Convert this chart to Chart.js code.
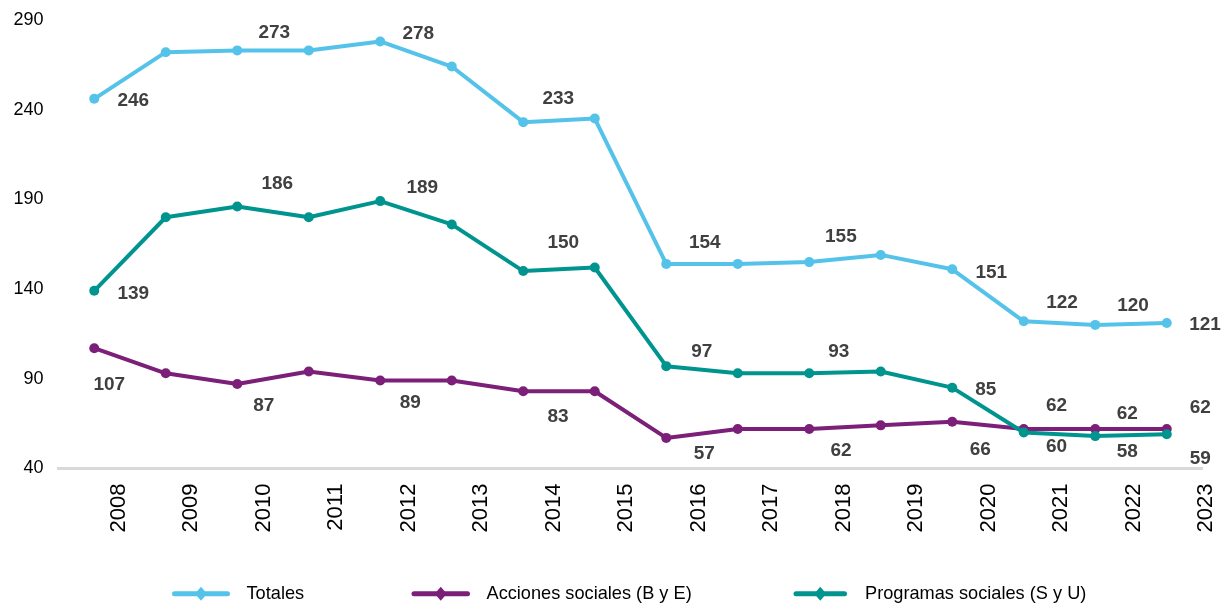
<!DOCTYPE html>
<html>
<head>
<meta charset="utf-8">
<script src="https://cdn.jsdelivr.net/npm/chart.js@4/dist/chart.umd.min.js"></script>
<style>
html,body{margin:0;padding:0;background:#fff;}
#wrap{width:1222px;height:603px;position:relative;}
</style>
</head>
<body>
<div id="wrap"><canvas id="c" width="1222" height="603"></canvas></div>
<script>
// ---- data ----
const years = ['2008','2009','2010','2011','2012','2013','2014','2015','2016','2017','2018','2019','2020','2021','2022','2023'];
const totales   = [246, 272, 273, 273, 278, 264, 233, 235, 154, 154, 155, 159, 151, 122, 120, 121];
const acciones  = [107,  93,  87,  94,  89,  89,  83,  83,  57,  62,  62,  64,  66,  62,  62,  62];
const programas = [139, 180, 186, 180, 189, 176, 150, 152,  97,  93,  93,  94,  85,  60,  58,  59];
const labelledIdx = [0, 2, 4, 6, 8, 10, 12, 13, 14, 15];
const yTicks = [40, 90, 140, 190, 240, 290];
const seriesNames = ['Totales', 'Acciones sociales (B y E)', 'Programas sociales (S y U)'];

// ---- styles ----
const COLORS = ['#55C3E9', '#7B1F79', '#00948F'];
const FONT = "'Liberation Sans', Arial, sans-serif";
// label offsets (dx, dy) from point centre, by labelled index
const labelOffsets = [
  {0:[39,0], 2:[37,-19], 4:[38,-9], 6:[35,-24.5], 8:[38.5,-23], 10:[31.6,-26.5], 12:[39,1.7], 13:[38.3,-19.7], 14:[37.8,-20.3], 15:[38.3,0.6]},
  {0:[15,35], 2:[26.5,19.7], 4:[30,21], 6:[34.7,24], 8:[38,14], 10:[31.8,20], 12:[28,26.6], 13:[32.8,-25], 14:[32,-16.3], 15:[33.6,-23]},
  {0:[39,1], 2:[40,-24], 4:[42,-15], 6:[40,-30], 8:[35.5,-15.7], 10:[29.6,-23], 12:[33.6,0.6], 13:[32.8,12.3], 14:[32,14], 15:[33.6,22.7]}
];
const legendItems = [
  {x0:172, x1:230, tx:246.5},
  {x0:411.5, x1:470, tx:486.5},
  {x0:793.5, x1:847, tx:865}
];

const overlay = {
  id: 'overlay',
  afterDatasetsDraw(chart) {
    const ctx = chart.ctx;
    ctx.save();
    ctx.font = 'bold 19px ' + FONT;
    ctx.fillStyle = '#404040';
    ctx.textAlign = 'center';
    ctx.textBaseline = 'alphabetic';
    chart.data.datasets.forEach((ds, di) => {
      const meta = chart.getDatasetMeta(di);
      labelledIdx.forEach(i => {
        const el = meta.data[i];
        const off = labelOffsets[di][i];
        ctx.fillText(String(Math.round(ds.data[i])), el.x + off[0], el.y + off[1] + 19 * 0.358);
      });
    });
    ctx.restore();
  },
  afterDraw(chart) {
    const ctx = chart.ctx;
    const xs = chart.scales.x;
    ctx.save();
    ctx.font = '22px ' + FONT;
    ctx.fillStyle = '#000';
    ctx.textAlign = 'right';
    ctx.textBaseline = 'alphabetic';
    years.forEach((y, i) => {
      const cx = xs.getPixelForTick(i) + 22.4 + i * 1.0;
      ctx.save();
      ctx.translate(cx + 22 * 0.358, 483.5);
      ctx.rotate(-Math.PI / 2);
      ctx.fillText(y, 0, 0);
      ctx.restore();
    });
    ctx.restore();
    ctx.save();
    const ly = 593.7;
    legendItems.forEach((it, i) => {
      const col = COLORS[i];
      ctx.strokeStyle = col;
      ctx.lineWidth = 5;
      ctx.lineCap = 'round';
      ctx.beginPath();
      ctx.moveTo(it.x0 + 2.5, ly);
      ctx.lineTo(it.x1 - 2.5, ly);
      ctx.stroke();
      const mx = (it.x0 + it.x1) / 2;
      ctx.fillStyle = col;
      ctx.beginPath();
      ctx.moveTo(mx, ly - 7);
      ctx.lineTo(mx + 6, ly);
      ctx.lineTo(mx, ly + 7);
      ctx.lineTo(mx - 6, ly);
      ctx.closePath();
      ctx.fill();
      ctx.fillStyle = '#000';
      ctx.font = '18.2px ' + FONT;
      ctx.textAlign = 'left';
      ctx.textBaseline = 'alphabetic';
      ctx.fillText(seriesNames[i], it.tx, 599);
    });
    ctx.restore();
  }
};

function ds(label, data, color, order) {
  return {
    label, data, order,
    borderColor: color, backgroundColor: color,
    borderWidth: 4, tension: 0,
    borderJoinStyle: 'round', borderCapStyle: 'round',
    pointRadius: 5, pointHoverRadius: 5,
    pointBackgroundColor: color, pointBorderColor: color, pointBorderWidth: 0,
    fill: false, clip: false
  };
}

new Chart(document.getElementById('c'), {
  type: 'line',
  data: {
    labels: years,
    datasets: [
      ds(seriesNames[0], totales, COLORS[0], 2),
      ds(seriesNames[1], acciones, COLORS[1], 1),
      ds(seriesNames[2], programas, COLORS[2], 0)
    ]
  },
  options: {
    responsive: false,
    animation: false,
    devicePixelRatio: 1,
    layout: { padding: { left: 0, right: 19.5, top: 19.9, bottom: 54.6 } },
    plugins: { legend: { display: false }, tooltip: { enabled: false } },
    events: [],
    scales: {
      x: {
        offset: true,
        grid: { display: false, drawTicks: false },
        border: { display: true, color: '#D9D9D9', width: 3 },
        ticks: { display: false },
        afterFit(s) { s.height = 80; s.paddingLeft = 0; s.paddingRight = 0; }
      },
      y: {
        min: 40, max: 290,
        afterBuildTicks(s) { s.ticks = yTicks.map(v => ({ value: v })); },
        grid: { display: false, drawTicks: false },
        border: { display: false },
        ticks: { padding: 15, color: '#000', font: { family: FONT, size: 18 } },
        afterFit(s) { s.width = 58.5; s.paddingTop = 0; s.paddingBottom = 0; }
      }
    }
  },
  plugins: [overlay]
});
</script>
</body>
</html>
